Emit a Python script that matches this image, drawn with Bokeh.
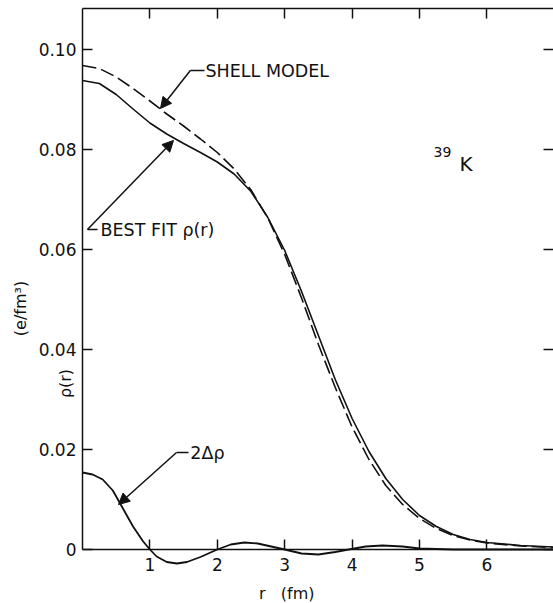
import math
from bokeh.plotting import figure
from bokeh.models import LinearAxis, FixedTicker, Arrow, NormalHead, Label, Range1d, NumeralTickFormatter
from bokeh.embed import file_html
from bokeh.resources import INLINE

# ---- data ----
r_fit = [0, 0.25, 0.5, 0.75, 1.0, 1.25, 1.5, 1.75, 2.0, 2.25, 2.5, 2.75, 3.0, 3.25, 3.5,
         3.75, 4.0, 4.25, 4.5, 4.75, 5.0, 5.25, 5.5, 5.75, 6.0, 6.5, 7.0]
rho_fit = [0.0938, 0.0932, 0.0910, 0.0881, 0.0853, 0.0831, 0.0812, 0.0794, 0.0775, 0.0751,
           0.0716, 0.0664, 0.0598, 0.0516, 0.0428, 0.0340, 0.0262, 0.0196, 0.0142, 0.0100,
           0.0068, 0.0046, 0.0030, 0.0020, 0.0014, 0.0008, 0.0005]

r_shell = [0, 0.25, 0.5, 0.75, 1.0, 1.25, 1.5, 1.75, 2.0, 2.25, 2.5, 2.75, 3.0, 3.25, 3.5,
           3.75, 4.0, 4.25, 4.5, 4.75, 5.0, 5.25, 5.5, 5.75, 6.0, 6.5, 7.0]
rho_shell = [0.0968, 0.0962, 0.0945, 0.0922, 0.0897, 0.0871, 0.0847, 0.0821, 0.0794, 0.0761,
             0.0719, 0.0663, 0.0590, 0.0503, 0.0410, 0.0324, 0.0245, 0.0180, 0.0128, 0.0090,
             0.0062, 0.0042, 0.0028, 0.0019, 0.0013, 0.0007, 0.0004]

r_delta = [0, 0.15, 0.3, 0.45, 0.6, 0.75, 0.9, 1.0, 1.1, 1.25, 1.4, 1.55, 1.75, 2.0, 2.2,
           2.4, 2.6, 2.8, 3.0, 3.25, 3.5, 3.75, 3.95, 4.2, 4.45, 4.75, 5.0, 5.5, 6.0, 7.0]
delta2 = [0.0154, 0.0150, 0.0140, 0.0118, 0.0082, 0.0046, 0.0016, 0.0000, -0.0014, -0.0025,
          -0.0028, -0.0025, -0.0015, 0.0000, 0.0010, 0.0014, 0.0012, 0.0006, 0.0000, -0.0008,
          -0.0010, -0.0005, 0.0000, 0.0006, 0.0008, 0.0006, 0.0002, 0.0000, 0.0000, 0.0000]

x_ticks = [1, 2, 3, 4, 5, 6]
y_ticks = [0, 0.02, 0.04, 0.06, 0.08, 0.10]

FONT = "DejaVu Sans"
INK = "#111111"
X_MAX = 6.988
Y_TOP = 0.1082

p = figure(width=553, height=603, x_range=Range1d(-1.2166, X_MAX), y_range=Range1d(-0.0108, 0.1098),
           output_backend="svg", toolbar_location=None, min_border=0,
           min_border_left=0, min_border_right=0, min_border_top=0, min_border_bottom=0)
p.grid.visible = False
p.outline_line_color = None
p.background_fill_color = "white"
p.border_fill_color = "white"


def style(ax):
    ax.major_tick_in = 10
    ax.major_tick_out = 0
    ax.minor_tick_line_color = None
    ax.axis_line_width = 1.5
    ax.axis_line_color = INK
    ax.major_tick_line_width = 1.5
    ax.major_tick_line_color = INK
    ax.major_label_text_font = FONT
    ax.major_label_text_font_size = "17px"
    ax.major_label_text_color = INK


def ticks_only(ax):
    # tick marks without labels: drawn as minor ticks
    ax.major_tick_line_color = None
    ax.minor_tick_in = 10
    ax.minor_tick_out = 0
    ax.minor_tick_line_width = 1.5
    ax.minor_tick_line_color = INK
    ax.axis_line_width = 1.5


# bottom axis, placed at rho = 0
xa = p.xaxis[0]
xa.fixed_location = 0
xa.bounds = (0, X_MAX)
xa.ticker = FixedTicker(ticks=x_ticks)
style(xa)
xa.major_label_standoff = 8

# left axis, placed at r = 0
ya = p.yaxis[0]
ya.fixed_location = 0
ya.ticker = FixedTicker(ticks=y_ticks)
ya.bounds = (0, Y_TOP)
ya.formatter = NumeralTickFormatter(format="0.00")
ya.major_label_overrides = {0: "0"}
style(ya)
ya.major_label_standoff = 6

top = LinearAxis(ticker=FixedTicker(ticks=[], minor_ticks=x_ticks), fixed_location=Y_TOP,
                 bounds=(0, X_MAX), axis_line_color=INK)
ticks_only(top)
p.add_layout(top, "above")

right = LinearAxis(ticker=FixedTicker(ticks=[], minor_ticks=y_ticks), fixed_location=6.986,
                   axis_line_color=None)
ticks_only(right)
p.add_layout(right, "right")

# curves
p.line(r_shell, rho_shell, line_color=INK, line_width=1.6, line_dash="14 5")
p.line(r_fit, rho_fit, line_color=INK, line_width=1.6)
p.line(r_delta, delta2, line_color=INK, line_width=1.8)


# annotations
def leader(x0, y0, x1, y1, head=True):
    end = NormalHead(size=11, fill_color=INK, line_color=INK, line_width=1) if head else None
    p.add_layout(Arrow(end=end, x_start=x0, y_start=y0, x_end=x1, y_end=y1,
                       line_color=INK, line_width=1.5))


def lab(x, y, text, size="17.5px", align="left", angle=0.0):
    p.add_layout(Label(x=x, y=y, text=text, text_font=FONT, text_font_size=size,
                       text_color=INK, text_align=align, text_baseline="middle", angle=angle))


lab(1.825, 0.0958, "SHELL MODEL")
leader(1.81, 0.0958, 1.60, 0.0958, head=False)
leader(1.60, 0.0958, 1.157, 0.0882)

lab(0.267, 0.0640, "BEST FIT ρ(r)")
leader(0.223, 0.0640, 0.074, 0.0640, head=False)
leader(0.074, 0.0640, 1.35, 0.0818)

lab(1.60, 0.0194, "2Δρ")
leader(1.573, 0.0194, 1.395, 0.0194, head=False)
leader(1.395, 0.0194, 0.534, 0.0090)

lab(5.208, 0.0796, "39", size="14px")
lab(5.593, 0.0772, "K", size="20px")

lab(-0.253, 0.0332, "ρ(r)", size="16px", align="center", angle=math.pi / 2)
lab(-0.92, 0.0482, "(e/fm³)", size="16px", align="center", angle=math.pi / 2)

lab(3.03, -0.0088, "r\u00a0\u00a0\u00a0(fm)", size="16px", align="center")

open("out.html", "w").write(file_html(p, INLINE))
